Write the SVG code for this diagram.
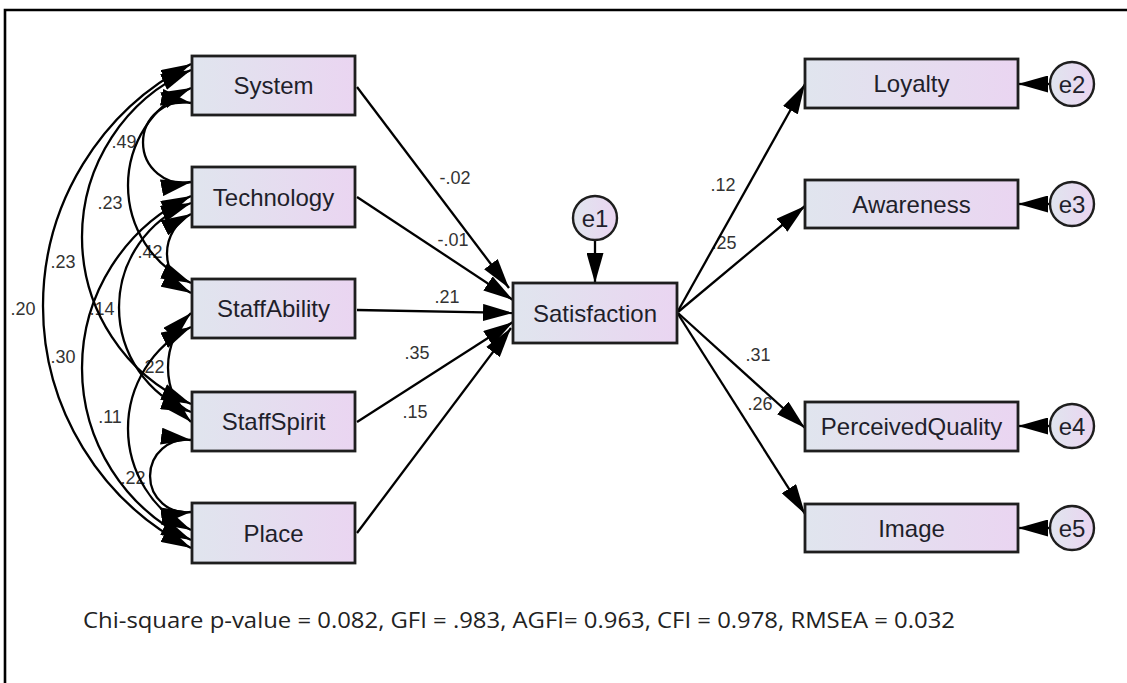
<svg xmlns="http://www.w3.org/2000/svg" width="1127" height="683" viewBox="0 0 1127 683">
  <defs>
    <linearGradient id="boxFill" x1="0" y1="0" x2="1" y2="0">
      <stop offset="0" stop-color="#e0e5ee"/>
      <stop offset="1" stop-color="#ead5f1"/>
    </linearGradient>
    <marker id="head" viewBox="0 0 30 17" markerWidth="30" markerHeight="17" markerUnits="userSpaceOnUse" refX="30" refY="8.5" orient="auto-start-reverse">
      <path d="M0,0 L30,8.5 L0,17 Z" fill="#000"/>
    </marker>
    <style>
      .box { fill: url(#boxFill); stroke: #1e1e1e; stroke-width: 2.8; }
      .err { fill: url(#boxFill); stroke: #1e1e1e; stroke-width: 2.4; }
      .name { font-family: "Liberation Sans", Arial, sans-serif; font-size: 24px; fill: #1f1f2b; text-anchor: middle; }
      .coef { font-family: "Liberation Sans", Arial, sans-serif; font-size: 18px; fill: #333; text-anchor: middle; }
      .path { fill: none; stroke: #000; stroke-width: 2.3; marker-end: url(#head); }
      .cov { fill: none; stroke: #000; stroke-width: 2.3; marker-start: url(#head); marker-end: url(#head); }
      .note { font-family: "Open Sans", "Noto Sans", sans-serif; font-size: 21px; fill: #222; }
    </style>
  </defs>

  <rect width="1127" height="683" fill="#fff"/>
  <!-- outer frame -->
  <path d="M5,683 V10 H1127" fill="none" stroke="#000" stroke-width="2.6"/>

  <!-- coefficient labels (drawn beneath the connectors) -->
  <g id="labels">
    <text class="coef" x="124" y="148">.49</text>
    <text class="coef" x="110" y="209">.23</text>
    <text class="coef" x="150" y="258">.42</text>
    <text class="coef" x="63" y="268">.23</text>
    <text class="coef" x="23" y="315">.20</text>
    <text class="coef" x="102" y="315">.14</text>
    <text class="coef" x="63" y="363">.30</text>
    <text class="coef" x="152" y="373">.22</text>
    <text class="coef" x="110" y="423">.11</text>
    <text class="coef" x="133" y="484">.22</text>
    <text class="coef" x="455" y="184">-.02</text>
    <text class="coef" x="453" y="246">-.01</text>
    <text class="coef" x="447" y="303">.21</text>
    <text class="coef" x="417" y="359">.35</text>
    <text class="coef" x="415" y="418">.15</text>
    <text class="coef" x="723" y="191">.12</text>
    <text class="coef" x="724" y="249">.25</text>
    <text class="coef" x="758" y="361">.31</text>
    <text class="coef" x="760" y="410">.26</text>
  </g>

  <g id="connectors">
    <!-- covariances between the exogenous variables -->
    <path class="cov" d="M191,103 A40.25,40.25 0 1 0 191,182"/>
    <path class="cov" d="M191,214 A44.5,44.5 0 0 0 191,293"/>
    <path class="cov" d="M191,313 A76.07,76.07 0 0 0 191,422"/>
    <path class="cov" d="M191,440 A36.3,36.3 0 1 0 191,512"/>
    <path class="cov" d="M191,88 A106.95,106.95 0 0 0 191,283"/>
    <path class="cov" d="M191,203 A111.84,111.84 0 0 0 191,412"/>
    <path class="cov" d="M191,327 A113.26,113.26 0 0 0 191,530"/>
    <path class="cov" d="M191,70 A182.43,182.43 0 0 0 191,404"/>
    <path class="cov" d="M191,196 A190.21,190.21 0 0 0 191,540"/>
    <path class="cov" d="M191,64 A271.85,271.85 0 0 0 191,548"/>

    <!-- regression paths into Satisfaction -->
    <line class="path" x1="357" y1="87" x2="509" y2="288"/>
    <line class="path" x1="357" y1="197" x2="513" y2="300"/>
    <line class="path" x1="357" y1="310" x2="513" y2="313"/>
    <line class="path" x1="357" y1="422" x2="513" y2="322"/>
    <line class="path" x1="357" y1="533" x2="511" y2="328"/>

    <!-- paths out of Satisfaction -->
    <line class="path" x1="678" y1="311" x2="805" y2="84"/>
    <line class="path" x1="678" y1="312" x2="805" y2="206"/>
    <line class="path" x1="678" y1="313" x2="805" y2="428"/>
    <line class="path" x1="678" y1="314" x2="805" y2="514"/>

    <!-- error terms -->
    <line class="path" x1="595" y1="240" x2="595" y2="283"/>
    <line class="path" x1="1050" y1="84" x2="1018" y2="84"/>
    <line class="path" x1="1050" y1="204" x2="1018" y2="204"/>
    <line class="path" x1="1050" y1="426" x2="1018" y2="426"/>
    <line class="path" x1="1050" y1="528" x2="1018" y2="528"/>
  </g>

  <g id="System">
    <rect class="box" x="192" y="56" width="163" height="59"/>
    <text class="name" x="273.5" y="94">System</text>
  </g>
  <g id="Technology">
    <rect class="box" x="192" y="167" width="163" height="60"/>
    <text class="name" x="273.5" y="206">Technology</text>
  </g>
  <g id="StaffAbility">
    <rect class="box" x="192" y="279" width="163" height="59"/>
    <text class="name" x="273.5" y="317">StaffAbility</text>
  </g>
  <g id="StaffSpirit">
    <rect class="box" x="192" y="392" width="163" height="59"/>
    <text class="name" x="273.5" y="430">StaffSpirit</text>
  </g>
  <g id="Place">
    <rect class="box" x="192" y="503" width="163" height="60"/>
    <text class="name" x="273.5" y="542">Place</text>
  </g>

  <g id="Satisfaction">
    <rect class="box" x="513" y="283" width="164" height="60"/>
    <text class="name" x="595" y="322">Satisfaction</text>
  </g>
  <g id="e1">
    <circle class="err" cx="595" cy="218" r="22"/>
    <text class="name" x="595" y="227">e1</text>
  </g>

  <g id="Loyalty">
    <rect class="box" x="805" y="59" width="213" height="49"/>
    <text class="name" x="911.5" y="92">Loyalty</text>
  </g>
  <g id="Awareness">
    <rect class="box" x="805" y="180" width="213" height="48"/>
    <text class="name" x="911.5" y="213">Awareness</text>
  </g>
  <g id="PerceivedQuality">
    <rect class="box" x="805" y="402" width="213" height="49"/>
    <text class="name" x="911.5" y="435">PerceivedQuality</text>
  </g>
  <g id="Image">
    <rect class="box" x="805" y="504" width="213" height="48"/>
    <text class="name" x="911.5" y="537">Image</text>
  </g>

  <g id="e2">
    <circle class="err" cx="1072" cy="84" r="22"/>
    <text class="name" x="1072" y="93">e2</text>
  </g>
  <g id="e3">
    <circle class="err" cx="1072" cy="204" r="22"/>
    <text class="name" x="1072" y="213">e3</text>
  </g>
  <g id="e4">
    <circle class="err" cx="1072" cy="426" r="22"/>
    <text class="name" x="1072" y="435">e4</text>
  </g>
  <g id="e5">
    <circle class="err" cx="1072" cy="528" r="22"/>
    <text class="name" x="1072" y="537">e5</text>
  </g>

  <text id="fit" class="note" x="83" y="628" textLength="872" lengthAdjust="spacingAndGlyphs">Chi-square p-value = 0.082, GFI = .983, AGFI= 0.963, CFI = 0.978, RMSEA = 0.032</text>
</svg>
